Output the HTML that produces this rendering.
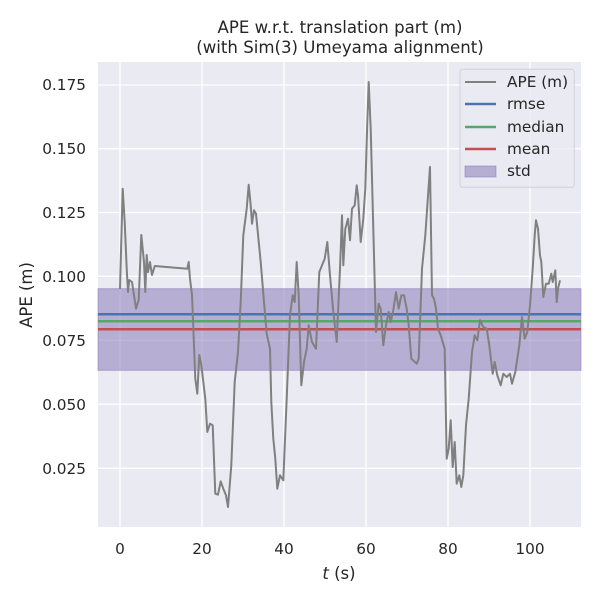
<!DOCTYPE html>
<html><head><style>body{margin:0;background:#fff}svg{display:block;font-family:"DejaVu Sans","Liberation Sans",sans-serif}</style></head><body>
<svg width="600" height="600" viewBox="0 0 600 600">
<rect x="98" y="62" width="483" height="465" fill="#eaeaf2"/>
<g stroke="#fff" stroke-width="1.3">
<line x1="120" y1="62" x2="120" y2="527"/><line x1="202" y1="62" x2="202" y2="527"/><line x1="284" y1="62" x2="284" y2="527"/><line x1="366" y1="62" x2="366" y2="527"/><line x1="448" y1="62" x2="448" y2="527"/><line x1="530" y1="62" x2="530" y2="527"/>
<line x1="98" y1="85" x2="581" y2="85"/><line x1="98" y1="148.7" x2="581" y2="148.7"/><line x1="98" y1="212.5" x2="581" y2="212.5"/><line x1="98" y1="276.3" x2="581" y2="276.3"/><line x1="98" y1="340.2" x2="581" y2="340.2"/><line x1="98" y1="404.2" x2="581" y2="404.2"/><line x1="98" y1="468.3" x2="581" y2="468.3"/>
</g>
<rect x="98" y="288.7" width="483" height="81.6" fill="#8172b3" fill-opacity="0.5" stroke="#8172b3" stroke-opacity="0.5"/>
<line x1="98" y1="314.3" x2="581" y2="314.3" stroke="#4c72b0" stroke-width="2.5"/>
<line x1="98" y1="321.3" x2="581" y2="321.3" stroke="#55a868" stroke-width="2.5"/>
<line x1="98" y1="329.3" x2="581" y2="329.3" stroke="#c44e52" stroke-width="2.5"/>
<polyline fill="none" stroke="#808080" stroke-width="2" stroke-linejoin="round" points="120,289 122.7,188.7 124.7,222 126.7,268.7 128,292 129.3,280 132,282 136,308.7 138.7,300 141.3,235 144,262 145.3,292 146.7,255 148,272 150,262 152,275 154.7,266 187.3,268.7 188.7,262 190,278.7 192,295 195.3,378.7 197.3,393.7 199.3,355 201.3,365 205.3,398.7 207.3,432 210,423.7 212.7,425.3 215.3,493.7 218,494.7 220.7,481.3 223.3,488.7 226,495.3 228,507 231.3,465.3 234.7,382 238,352 240.7,302 243.3,235.3 246.7,208.7 248.7,184.7 250.7,205.3 252,223.7 254,210.3 256,213.7 260.7,262 264,302 266.7,333.7 270,348.7 271.3,402 273.3,438.7 275.3,458.7 277.3,488.7 280,475.3 283.3,480.3 286.7,398.7 290,315.3 292.7,295.3 294.7,302 296.7,262 298.7,295.3 301.3,385.3 304,362 306.7,348.7 308.7,325.3 312,342 316,348.7 319.3,272 324.7,258.7 327.3,242 330,275.3 333.3,312 336.7,342 340,268.7 342,215.3 343.3,265.3 345.3,228.7 348,218.7 350,240.3 352,208.7 354.7,205.3 356.7,185.3 358,195.3 360.7,242 363.3,218.7 365.3,188.7 367.3,122 368.7,82 370.7,128.7 373.3,228.7 376,332 378.7,303.7 380.7,308.7 383.3,345.3 386,325.3 388.7,312 390.7,322 393.3,310.3 396,292 398.7,308.7 401.3,295.3 404,295.3 406.7,308.7 408.7,325.3 411.3,358.7 416.7,363.7 418.7,358.7 422,268.7 425.3,235.3 430,167 432,295.3 434,298.7 436,308.7 438,328.7 440.7,335.3 444.7,348.7 446.7,458.7 448.7,448.7 450.7,420.3 452.7,467 454.7,442 456.7,483.7 459.3,475.3 461.3,487 463.3,475.3 466,425.3 468.7,398.7 472,352 474.7,335.3 477.3,340.3 480,320.3 483.3,327 486.7,328.7 489.3,345.3 492.7,373.7 494.7,362 497.3,375.3 500.7,385.3 503.3,373.7 506.7,377 510,373.7 512,383.7 515.3,372 519.3,345.3 522,317 524.7,338.7 527.3,332 530,305.3 532.7,268.7 534.7,235.3 536,220.3 538,228.7 540,255.3 541.3,262 543.3,297 546,283.7 548.7,283.7 551.3,273.7 552.7,282 555.3,270.3 556.7,302 558,288.7 560,280.3"/>
<rect x="460" y="69.3" width="114.3" height="118" rx="3" fill="#eaeaf2" fill-opacity="0.8" stroke="#d0d0d8"/>
<line x1="465" y1="82" x2="496" y2="82" stroke="#808080" stroke-width="2"/>
<line x1="465" y1="104" x2="496" y2="104" stroke="#4c72b0" stroke-width="2.5"/>
<line x1="465" y1="127" x2="496" y2="127" stroke="#55a868" stroke-width="2.5"/>
<line x1="465" y1="149" x2="496" y2="149" stroke="#c44e52" stroke-width="2.5"/>
<rect x="465" y="166" width="31" height="11" fill="#8172b3" fill-opacity="0.5" stroke="#8172b3" stroke-opacity="0.5"/>
<g font-size="15.3" fill="#262626">
<text x="507" y="87">APE (m)</text><text x="507" y="109">rmse</text><text x="507" y="132">median</text><text x="507" y="154">mean</text><text x="507" y="176">std</text>
</g>
<g font-size="15.3" fill="#262626" text-anchor="middle">
<text x="120" y="554">0</text><text x="202" y="554">20</text><text x="284" y="554">40</text><text x="366" y="554">60</text><text x="448" y="554">80</text><text x="530" y="554">100</text>
<text x="339" y="579" font-size="16.5"><tspan font-style="italic">t</tspan> (s)</text>
<text x="340" y="33" font-size="16.6">APE w.r.t. translation part (m)</text>
<text x="340" y="53" font-size="16.6">(with Sim(3) Umeyama alignment)</text>
</g>
<g font-size="15.3" fill="#262626" text-anchor="end">
<text x="86" y="90">0.175</text><text x="86" y="154">0.150</text><text x="86" y="218">0.125</text><text x="86" y="282">0.100</text><text x="86" y="346">0.075</text><text x="86" y="410">0.050</text><text x="86" y="474">0.025</text>
</g>
<text transform="translate(32,295) rotate(-90)" font-size="16.5" fill="#262626" text-anchor="middle">APE (m)</text>
</svg>
</body></html>
